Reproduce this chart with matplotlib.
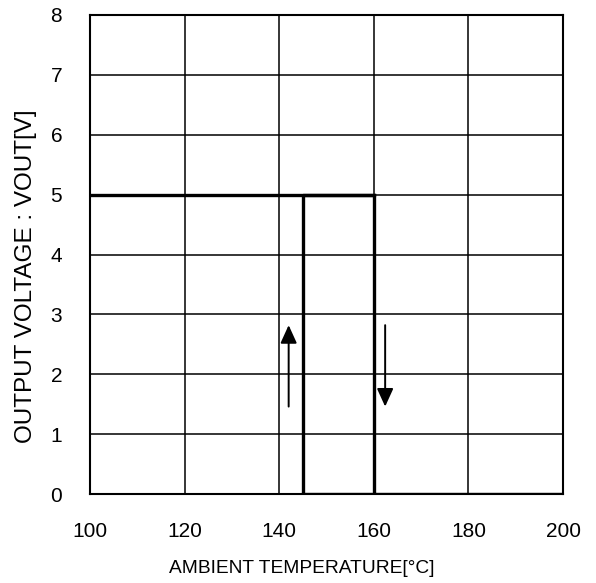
import matplotlib
matplotlib.use("Agg")
import matplotlib.pyplot as plt

# Hysteresis curve (temperature in °C, voltage in V)
temp_path = [100, 160, 160, 200]
volt_path = [5, 5, 0, 0]
temp_rise = [145, 145]
volt_rise = [0, 5]

# Arrows: (x, y_start, y_end)
arrow_up = (142, 1.46, 2.82)
arrow_down = (162.4, 2.82, 1.46)

x_ticks = [100, 120, 140, 160, 180, 200]
y_ticks = [0, 1, 2, 3, 4, 5, 6, 7, 8]

plt.rcParams['font.family'] = ['Liberation Sans', 'DejaVu Sans']

fig = plt.figure(figsize=(5.96, 5.83), dpi=100)
ax = fig.add_axes([90/596, 1-494/583, 473/596, 479/583])

ax.plot(temp_path, volt_path, color='black', lw=2.4, solid_joinstyle='miter', zorder=3)
ax.plot([temp_rise[0], temp_rise[1], 160], [volt_rise[0], volt_rise[1], 5], color='black', lw=2.4, zorder=3)
ax.plot([145, 160], [0, 0], color='black', lw=2.4, zorder=3)

for (x, y0, y1) in (arrow_up, arrow_down):
    ax.annotate('', xy=(x, y1), xytext=(x, y0),
                arrowprops=dict(arrowstyle='-|>,head_length=1.1,head_width=0.5',
                                color='black', lw=1.4, shrinkA=0, shrinkB=0), zorder=4)

ax.set_xlim(100, 200)
ax.set_ylim(0, 8)
ax.set_xticks(x_ticks)
ax.set_yticks(y_ticks)
ax.grid(True, color='black', lw=1.1)
ax.tick_params(length=0, labelsize=15)
ax.tick_params(axis='x', pad=20)
ax.tick_params(axis='y', pad=20)
for s in ax.spines.values():
    s.set_linewidth(1.5)
ax.set_xlabel('AMBIENT TEMPERATURE[°C]', fontsize=13.8)
ax.xaxis.set_label_coords(0.447, -0.137)
ax.set_ylabel('OUTPUT VOLTAGE : VOUT[V]', fontsize=17.5)
ax.yaxis.set_label_coords(-0.113, 0.455)

fig.savefig('out.png', dpi=100)
